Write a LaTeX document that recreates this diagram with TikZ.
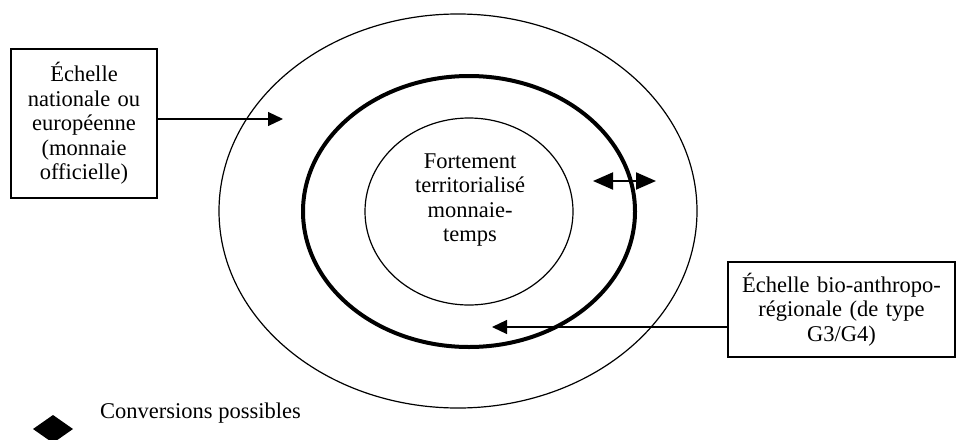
\documentclass[tikz,border=0pt]{standalone}
\usepackage{fontspec}
\setmainfont{Liberation Serif}
\usetikzlibrary{shapes.geometric,arrows.meta,calc}
\begin{document}
\begin{tikzpicture}[x=1pt,y=-1pt,
  txt/.style={font=\fontsize{22.5}{24.5}\selectfont, align=center},
  boxnode/.style={draw, line width=1.4pt, inner sep=0pt, txt},
  ring/.style={draw, ellipse, inner sep=0pt},
  arr/.style={line width=1.2pt, -{Triangle[length=15pt,width=14pt]}}
]
\useasboundingbox (0,0) rectangle (968,439);
\node[ring, line width=1.2pt, minimum width=478pt, minimum height=394pt] (outer) at (458,211) {};
\node[ring, line width=4pt, minimum width=332pt, minimum height=271pt] (mid) at (469,211.5) {};
\node[ring, line width=1.2pt, minimum width=208pt, minimum height=187pt] (inner) at (469,211.5) {};
\node[txt] (innertxt) at (470,200) {Fortement\\territorialisé\\monnaie-\\temps};
\node[boxnode, minimum width=146pt, minimum height=149pt, text width=140pt] (lbox) at (84,123.5)
  {Échelle\\nationale ou\\européenne\\(monnaie\\officielle)};
\node[boxnode, minimum width=227pt, minimum height=95pt, text width=220pt] (rbox) at (841.5,309.5)
  {Échelle bio-anthropo-\\régionale (de type\\G3/G4)};
\coordinate (tipL) at (283,119);
\coordinate (tipR) at (492,327);
\draw[arr] (lbox.east |- tipL) -- (tipL);
\draw[arr] (rbox.west |- tipR) -- (tipR);
\coordinate (convL) at (593,181);
\coordinate (convR) at (656,181);
\draw[line width=2pt, {Triangle[length=20pt,width=17pt]}-{Triangle[length=20pt,width=17pt]}] (convL) -- (convR);
\fill (33,429) -- (53,415) -- (73,429) -- (53,443) -- cycle;
\node[txt, anchor=west, inner sep=0pt] (legend) at (100,413) {Conversions possibles};
\end{tikzpicture}
\end{document}
